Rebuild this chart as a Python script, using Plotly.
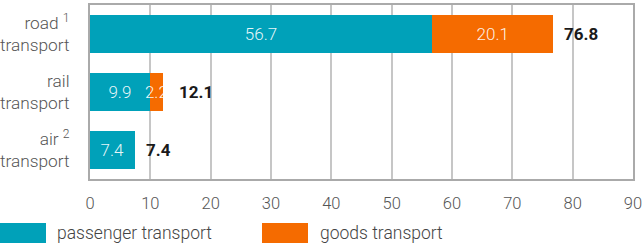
import plotly.graph_objects as go

categories = ["road <sup>1</sup><br>transport", "rail<br>transport", "air <sup>2</sup><br>transport"]
passenger = [56.7, 9.9, 7.4]
goods = [20.1, 2.2, None]
x_ticks = [0, 10, 20, 30, 40, 50, 60, 70, 80, 90]
series_names = ["passenger transport", "goods transport"]

TEAL = "#00a1b9"
ORANGE = "#f56b00"
FONT = "Roboto"
W, H = 643, 245
L, R, T, B = 90, 633, 5, 179

totals = [round(p + (g or 0), 1) for p, g in zip(passenger, goods)]

fig = go.Figure()
for vals, color, name in [(passenger, TEAL, series_names[0]), (goods, ORANGE, series_names[1])]:
    fig.add_trace(go.Bar(
        y=categories, x=vals, orientation="h", name=name,
        marker=dict(color=color, line=dict(width=0)),
        text=[f"{v:.1f}" if v else "" for v in vals],
        textposition="inside", insidetextanchor="middle", constraintext="none",
        textangle=0,
        textfont=dict(family=FONT, size=17, color="rgba(255,255,255,0.92)", weight=300),
        cliponaxis=False, showlegend=False, hoverinfo="skip",
    ))

shifts = [9, 14, 9]
for c, t, s in zip(categories, totals, shifts):
    fig.add_annotation(x=t, y=c, xref="x", yref="y", text=f"<b>{t:.1f}</b>",
                       xanchor="left", xshift=s, showarrow=False,
                       font=dict(family=FONT, size=17, color="#1a1a1a"))

# legend drawn manually
leg = [(0, 46, 57, TEAL, series_names[0]), (262, 308, 320, ORANGE, series_names[1])]
for x0, x1, tx, col, name in leg:
    fig.add_shape(type="rect", xref="paper", yref="paper",
                  x0=x0 / W, x1=x1 / W, y0=1 - 243 / H, y1=1 - 223 / H,
                  fillcolor=col, line=dict(width=0))
    fig.add_annotation(x=tx / W, y=1 - 233 / H, xref="paper", yref="paper",
                       text=name, xanchor="left", yanchor="middle", showarrow=False,
                       xshift=-2,
                       font=dict(family=FONT, size=17.5, color="#444", weight=300))

fig.update_layout(
    template="none", width=W, height=H, barmode="stack", bargap=0.36,
    margin=dict(l=0, r=0, t=0, b=0),
    paper_bgcolor="white", plot_bgcolor="white",
    font=dict(family=FONT, color="#444"),
    xaxis=dict(domain=[L / W, R / W], range=[0, 90], tickvals=x_ticks,
               showgrid=True, gridcolor="#c6c6c6", gridwidth=1.5,
               showline=True, linecolor="#aaaaaa", linewidth=2, mirror=True,
               ticks="", ticklabelstandoff=8, zeroline=False, automargin=False,
               tickfont=dict(family=FONT, size=16.5, color="#555", weight=300)),
    yaxis=dict(domain=[1 - B / H, 1 - T / H], categoryorder="array", categoryarray=categories,
               autorange="reversed", showgrid=False,
               showline=True, linecolor="#aaaaaa", linewidth=2, mirror=True,
               ticks="", ticklabelstandoff=15, automargin=False,
               tickfont=dict(family=FONT, size=17.3, color="#555", weight=300)),
)

fig.write_html("out.html", config={"displayModeBar": False},
               post_script="document.body.style.margin='0';document.body.style.overflow='hidden';")
